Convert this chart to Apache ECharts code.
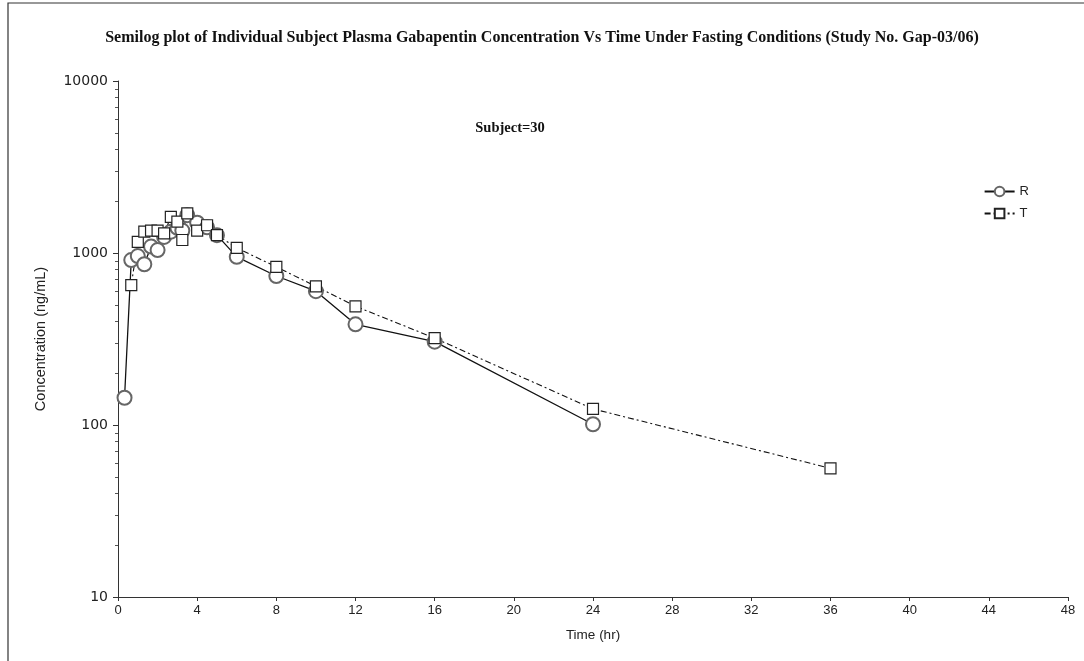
<!DOCTYPE html>
<html>
<head>
<meta charset="utf-8">
<script src="https://cdn.jsdelivr.net/npm/echarts@6/dist/echarts.min.js"></script>
<style>
  html, body { margin: 0; padding: 0; background: #fff; }
  #chart { width: 1084px; height: 661px; }
</style>
</head>
<body>
<div id="chart"></div>
<script>
// sampling times (hr) and concentrations (ng/mL)
const timesR = [0.33, 0.67, 1, 1.33, 1.67, 2, 2.33, 2.67, 3, 3.25, 3.5, 4, 4.5, 5, 6, 8, 10, 12, 16, 24];
const concR  = [144, 910, 960, 860, 1090, 1040, 1240, 1330, 1400, 1350, 1660, 1500, 1410, 1270, 950, 735, 600, 385, 305, 101];
const timesT = [0.67, 1, 1.33, 1.67, 2, 2.33, 2.67, 3, 3.25, 3.5, 4, 4.5, 5, 6, 8, 10, 12, 16, 24, 36];
const concT  = [650, 1160, 1330, 1350, 1350, 1300, 1620, 1520, 1190, 1700, 1350, 1450, 1270, 1070, 830, 640, 490, 320, 124, 56];
const xTicks = [0, 4, 8, 12, 16, 20, 24, 28, 32, 36, 40, 44, 48];

let myChart = echarts.init(document.getElementById("chart"));

const pair = (xs, ys) => xs.map((x, i) => [x, ys[i]]);
const sans = "Liberation Sans, Arial";
const serif = "Liberation Serif, Times New Roman";

myChart.setOption({
  backgroundColor: "#fff",
  animation: false,
  title: [
    {
      text: "Semilog plot of Individual Subject Plasma Gabapentin Concentration Vs Time Under Fasting Conditions (Study No. Gap-03/06)",
      left: "center",
      top: 25,
      textStyle: { fontFamily: serif, fontWeight: "bold", fontSize: 16, color: "#111" },
    },
    {
      text: "Subject=30",
      left: 505,
      top: 116,
      textAlign: "center",
      textStyle: { fontFamily: serif, fontWeight: "bold", fontSize: 14.5, color: "#111" },
    },
  ],
  legend: {
    orient: "vertical",
    right: 50,
    top: 180,
    itemWidth: 30,
    itemHeight: 12,
    itemGap: 9,
    textStyle: { fontFamily: sans, fontSize: 13, color: "#222" },
    data: ["R", "T"],
  },
  grid: { left: 118, right: 16, top: 81, bottom: 64 },
  xAxis: {
    type: "value",
    min: 0,
    max: 48,
    interval: 4,
    name: "Time (hr)",
    nameLocation: "middle",
    nameGap: 31,
    nameTextStyle: { fontFamily: sans, fontSize: 13.5, color: "#222" },
    axisLine: { lineStyle: { color: "#333", width: 1 } },
    axisTick: { length: 4, lineStyle: { color: "#333" } },
    axisLabel: { fontFamily: sans, fontSize: 13, color: "#222", margin: 7, customValues: xTicks },
    splitLine: { show: false },
  },
  yAxis: {
    type: "log",
    logBase: 10,
    min: 10,
    max: 10000,
    name: "Concentration (ng/mL)",
    nameLocation: "middle",
    nameGap: 70,
    nameTextStyle: { fontFamily: sans, fontSize: 14.5, color: "#222" },
    axisLine: { lineStyle: { color: "#333", width: 1 } },
    axisTick: { length: 5, lineStyle: { color: "#333" } },
    minorTick: { show: true, splitNumber: 9, length: 3, lineStyle: { color: "#555" } },
    axisLabel: {
      fontFamily: "DejaVu Sans",
      fontSize: 14,
      color: "#222",
      margin: 10,
      formatter: (v) => String(Math.round(v)),
    },
    splitLine: { show: false },
  },
  series: [
    {
      name: "R",
      type: "line",
      data: pair(timesR, concR),
      symbol: "emptyCircle",
      symbolSize: 14,
      lineStyle: { color: "#111", width: 1.3 },
      itemStyle: { color: "#666", borderColor: "#666", borderWidth: 1 },
    },
    {
      name: "T",
      type: "line",
      data: pair(timesT, concT),
      symbol: "rect",
      symbolSize: 11,
      lineStyle: { color: "#111", width: 1.1, type: [6, 3, 2, 3] },
      itemStyle: { color: "#fff", borderColor: "#222", borderWidth: 1.2 },
    },
  ],
  graphic: [
    {
      type: "rect",
      shape: { x: 8, y: 3, width: 1090, height: 670 },
      style: { fill: null, stroke: "#333", lineWidth: 1.2 },
      silent: true,
    },
  ],
});

window.addEventListener("resize", () => {
  myChart.resize();
});
</script>
</body>
</html>
